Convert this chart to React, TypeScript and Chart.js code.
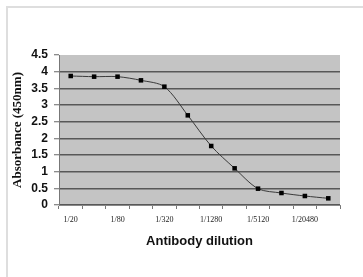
import React, { useEffect, useRef } from "react";
import { Chart, registerables } from "chart.js";

Chart.register(...registerables);

const categories = [
  "1/20", "1/40", "1/80", "1/160", "1/320", "1/640",
  "1/1280", "1/2560", "1/5120", "1/10240", "1/20480", "1/40960",
];
const absorbance = [3.87, 3.85, 3.85, 3.74, 3.55, 2.69, 1.77, 1.1, 0.49, 0.36, 0.27, 0.2];
const yMin = 0;
const yMax = 4.5;
const yStep = 0.5;

const plotBg = {
  id: "plotBg",
  beforeDraw(chart: any) {
    const { ctx, chartArea } = chart;
    ctx.save();
    ctx.fillStyle = "#c4c4c4";
    ctx.fillRect(chartArea.left, chartArea.top, chartArea.right - chartArea.left, chartArea.bottom - chartArea.top);
    ctx.restore();
  },
};

export default function App() {
  const ref = useRef<HTMLCanvasElement>(null);
  useEffect(() => {
    const chart = new Chart(ref.current!, {
      type: "line",
      data: {
        labels: categories,
        datasets: [
          {
            data: absorbance,
            borderColor: "#3a3a3a",
            borderWidth: 1,
            tension: 0.3,
            pointStyle: "rect",
            pointRadius: 3.2,
            pointBackgroundColor: "#000",
            pointBorderColor: "#000",
            pointBorderWidth: 0,
          },
        ],
      },
      options: {
        responsive: false,
        animation: false,
        plugins: { legend: { display: false }, tooltip: { enabled: false } },
        layout: { padding: { top: 55, right: 23, left: 0, bottom: 0 } },
        scales: {
          x: {
            offset: true,
            afterFit: (s: any) => { s.height = 72; },
            grid: {
              offset: true,
              drawOnChartArea: false,
              drawTicks: true,
              tickLength: 4,
              tickColor: "#777",
              tickWidth: 1,
            },
            border: { color: "#888", width: 1 },
            ticks: {
              autoSkip: false,
              maxRotation: 0,
              padding: 6,
              color: "#222",
              font: { family: "'Liberation Serif', 'Times New Roman', serif", size: 8 },
              callback: (_v: any, i: number) => (i % 2 === 0 ? categories[i] : ""),
            },
            title: {
              display: true,
              text: "Antibody dilution",
              color: "#111",
              font: { family: "'Liberation Sans', Arial, sans-serif", size: 13, weight: "bold" },
              padding: { top: 0, bottom: 28 },
            },
          },
          y: {
            min: yMin,
            max: yMax,
            afterFit: (s: any) => { s.width = 59; },
            grid: {
              color: (c: any) => (c.tick && c.tick.value === yMax ? "rgba(0,0,0,0)" : "#585858"),
              lineWidth: 1.5,
              tickLength: 5,
              tickColor: "#666",
              tickWidth: 1,
            },
            border: { color: "#777", width: 1 },
            ticks: {
              stepSize: yStep,
              autoSkip: false,
              padding: 6,
              color: "#111",
              font: { family: "'Liberation Sans', Arial, sans-serif", size: 12, weight: "bold" },
              callback: (v: any) => String(v),
            },
            title: {
              display: true,
              text: "Absorbance (450nm)",
              color: "#111",
              font: { family: "'Liberation Serif', 'Times New Roman', serif", size: 13, weight: "bold" },
              padding: { top: 10, bottom: 0 },
            },
          },
        },
      },
      plugins: [plotBg],
    } as any);
    return () => chart.destroy();
  }, []);
  return (
    <div style={{ position: "fixed", left: 0, top: 0, width: 363, height: 277, background: "#fff" }}>
      <div
        style={{
          position: "absolute",
          left: 6,
          top: 6,
          width: 357,
          height: 271,
          borderTop: "2px solid #dedede",
          borderLeft: "2px solid #dedede",
          boxSizing: "border-box",
        }}
      />
      <canvas ref={ref} width={363} height={277} style={{ position: "absolute", left: 0, top: 0 }} />
    </div>
  );
}
